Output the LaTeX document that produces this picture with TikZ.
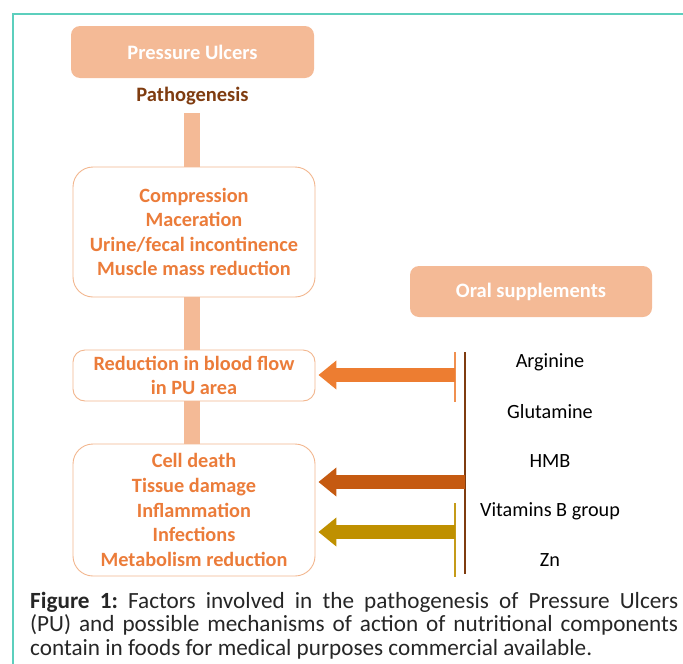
\documentclass[tikz,border=0pt]{standalone}
\usepackage{fontspec}
\setmainfont{Carlito}
\usetikzlibrary{arrows.meta}
\frenchspacing
\definecolor{frameteal}{HTML}{5CCFBD}
\definecolor{pale}{HTML}{F4BA96}
\definecolor{paleline}{HTML}{F2B68E}
\definecolor{orangetxt}{HTML}{EB7C3A}
\definecolor{darkbrown}{HTML}{7F3C10}
\definecolor{arrowA}{HTML}{ED7D31}
\definecolor{arrowB}{HTML}{C55A11}
\definecolor{arrowC}{HTML}{BF9000}
\tikzset{
  filledbox/.style={fill=pale, draw=none, rounded corners=9pt, minimum width=243pt, minimum height=52pt, text=white, font=\fontsize{20.5}{24}\selectfont\bfseries},
  outlinebox/.style={draw=paleline, line width=0.9pt, rounded corners=20pt, minimum width=242pt, align=center, text=orangetxt, font=\fontsize{20.3}{24.6}\selectfont\bfseries},
  bar/.style={draw=pale, line width=16pt},
  supp/.style={font=\fontsize{20.2}{24}\selectfont, text=black},
  bigarrow/.style={line width=14pt, -{Triangle[width=28pt,length=18pt]}},
  tick/.style={line width=2pt}
}
\begin{document}
\begin{tikzpicture}[x=1pt,y=-1pt]
\useasboundingbox (0,0) rectangle (683,664);
% frame
\draw[frameteal, line width=1.3pt] (683,14) -- (13,14) -- (13,664);
% left column
\node[filledbox] (pu) at (192.5,52) {Pressure Ulcers};
\node[font=\fontsize{20.5}{24}\selectfont\bfseries, text=darkbrown] (patho) at (192.5,96) {Pathogenesis};
\node[outlinebox, minimum height=130pt] (comp) at (194,232) {Compression\\Maceration\\Urine/fecal incontinence\\Muscle mass reduction};
\node[outlinebox, minimum height=51pt, rounded corners=12pt] (red) at (194,375.5) {Reduction in blood flow\\in PU area};
\node[outlinebox, minimum height=132pt] (cell) at (194,510) {Cell death\\Tissue damage\\Inflammation\\Infections\\Metabolism reduction};
\coordinate (barstart) at (192,113);
\draw[bar] (barstart) -- (barstart |- comp.north);
\draw[bar] (barstart |- comp.south) -- (barstart |- red.north);
\draw[bar] (barstart |- red.south) -- (barstart |- cell.north);
% right column
\node[filledbox, minimum width=242pt, minimum height=51pt] (oral) at (531,291.5) {Oral supplements};
\node[supp] (arg) at (550,362) {Arginine};
\node[supp] (glu) at (550,412) {Glutamine};
\node[supp] (hmb) at (550,461) {HMB};
\node[supp] (vit) at (550,511) {Vitamins B group};
\node[supp] (zn) at (550,560) {Zn};
% ticks and line
\coordinate (t1a) at (455,352); \coordinate (t1b) at (455,402);
\coordinate (t3a) at (455,503); \coordinate (t3b) at (455,577);
\coordinate (bra) at (465,352); \coordinate (brb) at (465,574);
\draw[tick, draw=arrowA!85!white] (t1a) -- (t1b);
\draw[tick, draw=arrowC!90!white] (t3a) -- (t3b);
\draw[line width=2.6pt, darkbrown] (bra) -- (brb);
% arrows
\coordinate (a1) at (455,375);
\coordinate (a2) at (465,482);
\coordinate (a3) at (455,532);
\draw[bigarrow, arrowA] (a1) -- ([xshift=3pt]a1 -| red.east);
\draw[bigarrow, arrowB] (a2) -- ([xshift=3pt]a2 -| cell.east);
\draw[bigarrow, arrowC] (a3) -- ([xshift=3pt]a3 -| cell.east);
% caption
\node[anchor=north west, inner sep=0pt, text width=648pt, align=justify, font=\fontsize{23.2}{23.5}\selectfont, text=black!85] (cap) at (30,592) {\textbf{Figure 1:} Factors involved in the pathogenesis of Pressure Ulcers\linebreak (PU) and possible mechanisms of action of nutritional components\linebreak contain in foods for medical purposes commercial available.};
\end{tikzpicture}
\end{document}
